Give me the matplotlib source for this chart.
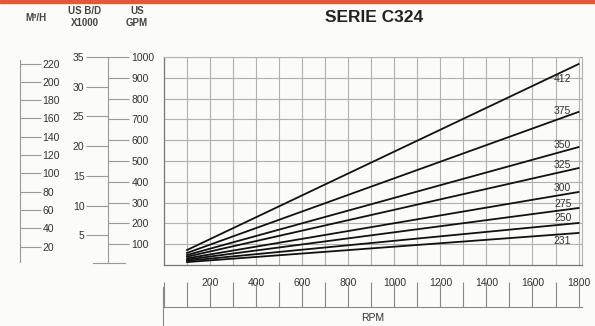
import numpy as np
import matplotlib
matplotlib.use("Agg")
import matplotlib.pyplot as plt
from matplotlib.lines import Line2D
from matplotlib.patches import Rectangle

# pump models (curve labels) and flow in US GPM at 100 and 1800 RPM
models = ["412", "375", "350", "325", "300", "275", "250", "231"]
rpm = [100, 1800]
gpm_start = [72, 58, 48, 40, 32, 26, 20, 14]
gpm_end = [966, 736, 567, 466, 351, 274, 202, 154]

rpm_ticks = [200, 400, 600, 800, 1000, 1200, 1400, 1600, 1800]
gpm_ticks = [100, 200, 300, 400, 500, 600, 700, 800, 900, 1000]
bd_ticks = [5, 10, 15, 20, 25, 30, 35]
m3h_ticks = [20, 40, 60, 80, 100, 120, 140, 160, 180, 200, 220]

GPM_TO_M3H = 0.2271
GPM_TO_KBD = 0.0342857

W, H = 595, 326
txt = "#333333"
grid_c = "#b0b0b0"
plt.rcParams["font.family"] = ["Liberation Sans", "DejaVu Sans"]


def fx(px):
    return px / W


def fy(py):
    return 1 - py / H


def main():
    fig = plt.figure(figsize=(W / 100, H / 100), dpi=100)
    fig.patch.set_facecolor("#fbfbf9")
    fig.patches.append(Rectangle((0, fy(3)), 1, 3 / H, transform=fig.transFigure,
                                 color="#e4573a", zorder=5))

    y_bot, y_top = 265, 57
    ax_h = (y_bot - y_top) / H

    # main chart
    ax = fig.add_axes([fx(164), fy(y_bot), fx(582 - 164), ax_h])
    ax.set_facecolor("#fbfbf9")
    for m, a, b in zip(models, gpm_start, gpm_end):
        ax.plot(rpm, [a, b], color="#111111", lw=1.3, zorder=3)
    ax.set_xlim(0, 1815)
    ax.set_ylim(0, 1000)
    ax.set_xticks(np.arange(0, 1801, 100), minor=True)
    ax.set_xticks(rpm_ticks)
    ax.set_yticks(gpm_ticks)
    ax.grid(True, which="both", color=grid_c, lw=0.8)
    ax.tick_params(which="both", length=0, labelsize=7.5, labelcolor=txt, pad=9)
    ax.tick_params(axis="y", labelleft=False)
    for s in ["top", "right"]:
        ax.spines[s].set_color(grid_c)
        ax.spines[s].set_linewidth(0.8)
    for s in ["left", "bottom"]:
        ax.spines[s].set_color("#777777")
        ax.spines[s].set_linewidth(0.9)

    # curve labels at the right end (412 and 231 sit under their line)
    lab_x = 1731
    for m, a, b in zip(models, gpm_start, gpm_end):
        yv = a + (b - a) * (lab_x - rpm[0]) / (rpm[1] - rpm[0])
        if m in ("412", "231"):
            ax.text(lab_x, yv - 10, m, ha="center", va="top", fontsize=7.5, color=txt)
        else:
            ax.text(lab_x, yv + 6, m, ha="center", va="bottom", fontsize=7.5, color=txt)

    # RPM ruler under the chart
    rul = fig.add_axes([fx(164), fy(307), fx(582 - 164), 18 / H])
    rul.set_xlim(0, 1815)
    rul.patch.set_visible(False)
    for s in ["top", "right", "left"]:
        rul.spines[s].set_visible(False)
    rul.spines["bottom"].set_color("#888888")
    rul.spines["bottom"].set_linewidth(0.8)
    rul.set_xticks(np.arange(0, 1801, 100))
    rul.tick_params(axis="x", direction="in", length=18, color="#888888", width=0.8,
                    labelbottom=False)
    rul.set_yticks([])
    rul.set_xlabel("RPM", fontsize=7.5, color=txt, labelpad=4)
    fig.lines.append(Line2D([fx(163), fx(163)], [fy(287), 0], transform=fig.transFigure,
                            color="#888888", lw=0.8))

    # M3/H scale
    a1 = fig.add_axes([fx(20), fy(y_bot), 0.0001, ax_h])
    a1.set_ylim(0, 1000 * GPM_TO_M3H)
    a1.set_xticks([])
    a1.patch.set_visible(False)
    for s in ["top", "left", "bottom"]:
        a1.spines[s].set_visible(False)
    a1.spines["right"].set_bounds(3, 224)
    a1.spines["right"].set_color("#999999")
    a1.yaxis.tick_right()
    a1.set_yticks(m3h_ticks)
    a1.tick_params(axis="y", direction="out", length=15, color="#999999", width=0.8,
                   labelsize=7.5, labelcolor=txt, pad=1)

    # US GPM scale
    a2 = fig.add_axes([fx(108), fy(y_bot), 0.0001, ax_h])
    a2.set_ylim(0, 1000)
    a2.set_xticks([])
    a2.patch.set_visible(False)
    for s in ["top", "left", "bottom"]:
        a2.spines[s].set_visible(False)
    a2.spines["right"].set_bounds(10, 1000)
    a2.spines["right"].set_color("#999999")
    a2.yaxis.tick_right()
    a2.set_yticks(gpm_ticks)
    a2.tick_params(axis="y", direction="out", length=15, color="#999999", width=0.8,
                   labelsize=7.5, labelcolor=txt, pad=2)

    # US B/D x1000 scale
    a3 = fig.add_axes([fx(108), fy(y_bot), 0.0001, ax_h])
    a3.set_ylim(0, 1000 * GPM_TO_KBD)
    a3.set_xticks([])
    a3.patch.set_visible(False)
    for s in ["top", "right", "bottom", "left"]:
        a3.spines[s].set_visible(False)
    a3.set_yticks(bd_ticks)
    a3.tick_params(axis="y", direction="out", length=16, color="#999999", width=0.8,
                   labelsize=7.5, labelcolor=txt, pad=1)
    fig.lines.append(Line2D([fx(93), fx(125)], [fy(263), fy(263)], transform=fig.transFigure,
                            color="#999999", lw=0.8))

    # headers
    fig.text(fx(374), fy(18), "SERIE C324", ha="center", va="center", fontsize=12.5,
             fontweight="bold", color="#222222")
    fig.text(fx(36), fy(18), "M³/H", ha="center", va="center", fontsize=7,
             fontweight="bold", color="#444444")
    fig.text(fx(85), fy(17), "US B/D\nX1000", ha="center", va="center", fontsize=7,
             fontweight="bold", color="#444444", linespacing=1.15)
    fig.text(fx(137), fy(17), "US\nGPM", ha="center", va="center", fontsize=7,
             fontweight="bold", color="#444444", linespacing=1.15)

    fig.savefig("out.png", dpi=100, facecolor=fig.get_facecolor())


if __name__ == "__main__":
    main()
